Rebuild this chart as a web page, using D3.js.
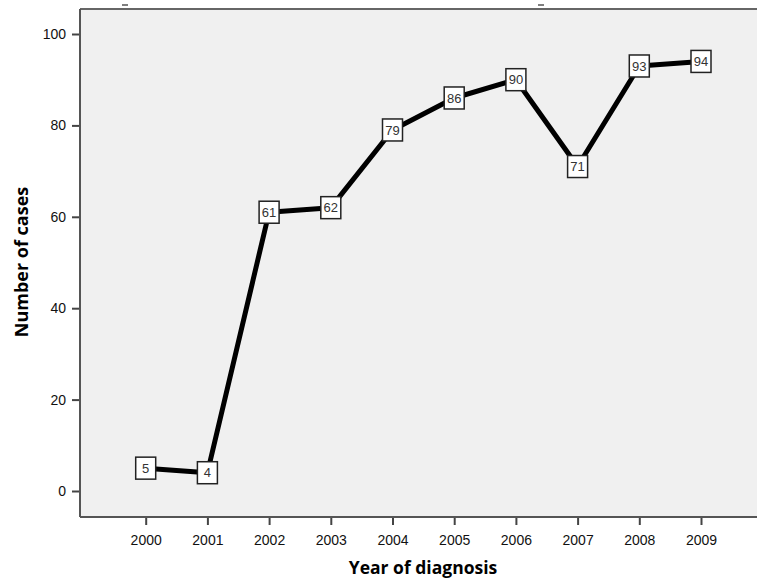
<!DOCTYPE html>
<html>
<head>
<meta charset="utf-8">
<script src="https://cdn.jsdelivr.net/npm/d3@7"></script>
<style>
  body { margin: 0; background: #fff; }
  svg { display: block; font-family: "Liberation Sans", Arial, sans-serif; }
</style>
</head>
<body>
<div id="chart"></div>
<script>
var years = ["2000", "2001", "2002", "2003", "2004", "2005", "2006", "2007", "2008", "2009"];
var cases = [5, 4, 61, 62, 79, 86, 90, 71, 93, 94];
var yTicks = [0, 20, 40, 60, 80, 100];

var W = 757, H = 581;
var plot = {left: 80, top: 9, right: 757, bottom: 517};

var svg = d3.select("#chart").append("svg")
  .attr("width", W)
  .attr("height", H);

var x = d3.scalePoint()
  .domain(years)
  .range([145.7, 701]);

var y = d3.scaleLinear()
  .domain([0, 100])
  .range([491, 34]);

// plot background
svg.append("rect")
  .attr("x", plot.left)
  .attr("y", plot.top)
  .attr("width", plot.right - plot.left)
  .attr("height", plot.bottom - plot.top)
  .attr("fill", "#f0f0f0");

// top border and its little marks
svg.append("line")
  .attr("x1", plot.left).attr("x2", plot.right)
  .attr("y1", plot.top).attr("y2", plot.top)
  .attr("stroke", "#666").attr("stroke-width", 2);
[125, 541].forEach(function(px){
  svg.append("line")
    .attr("x1", px - 3).attr("x2", px + 3)
    .attr("y1", 5).attr("y2", 5)
    .attr("stroke", "#555").attr("stroke-width", 1.5);
});

// Y axis
var yAxis = svg.append("g")
  .attr("transform", "translate(" + plot.left + ",0)")
  .call(d3.axisLeft(y).tickValues(yTicks).tickSize(8).tickPadding(6));
yAxis.select(".domain").remove();
yAxis.append("line")
  .attr("x1", 0).attr("x2", 0)
  .attr("y1", plot.top).attr("y2", plot.bottom)
  .attr("stroke", "#555").attr("stroke-width", 2);
yAxis.selectAll(".tick line").attr("stroke", "#444").attr("stroke-width", 2);
yAxis.selectAll("text").style("font-size", "14px").style("fill", "#111");

// X axis
var xAxis = svg.append("g")
  .attr("transform", "translate(0," + plot.bottom + ")")
  .call(d3.axisBottom(x).tickSize(8).tickPadding(10));
xAxis.select(".domain").remove();
xAxis.append("line")
  .attr("x1", plot.left).attr("x2", plot.right)
  .attr("y1", 0).attr("y2", 0)
  .attr("stroke", "#555").attr("stroke-width", 2);
xAxis.selectAll(".tick line").attr("stroke", "#444").attr("stroke-width", 2);
xAxis.selectAll("text").style("font-size", "14px").style("fill", "#111");

// axis titles
svg.append("text")
  .attr("x", 423).attr("y", 574)
  .attr("text-anchor", "middle")
  .style("font-family", "'Open Sans', sans-serif")
  .style("font-size", "17.5px").style("font-weight", "bold")
  .text("Year of diagnosis");

svg.append("text")
  .attr("transform", "translate(28,262) rotate(-90)")
  .attr("text-anchor", "middle")
  .style("font-family", "'Open Sans', sans-serif")
  .style("font-size", "18px").style("font-weight", "bold")
  .text("Number of cases");

// line
var line = d3.line()
  .x(function(d, i){ return x(years[i]); })
  .y(function(d){ return y(d); });

svg.append("path")
  .datum(cases)
  .attr("d", line)
  .attr("fill", "none")
  .attr("stroke", "#000")
  .attr("stroke-width", 5)
  .attr("stroke-linejoin", "round");

// markers with labels
var marks = svg.selectAll("g.mark")
  .data(cases)
  .enter()
  .append("g")
  .attr("class", "mark")
  .attr("transform", function(d, i){ return "translate(" + x(years[i]) + "," + y(d) + ")"; });

marks.append("rect")
  .attr("x", -10).attr("y", -11)
  .attr("width", 20).attr("height", 22)
  .attr("fill", "#fff")
  .attr("stroke", "#222")
  .attr("stroke-width", 1.5);

marks.append("text")
  .attr("text-anchor", "middle")
  .attr("dy", "0.36em")
  .style("font-size", "13px")
  .style("fill", "#333")
  .text(function(d){ return d; });
</script>
</body>
</html>
